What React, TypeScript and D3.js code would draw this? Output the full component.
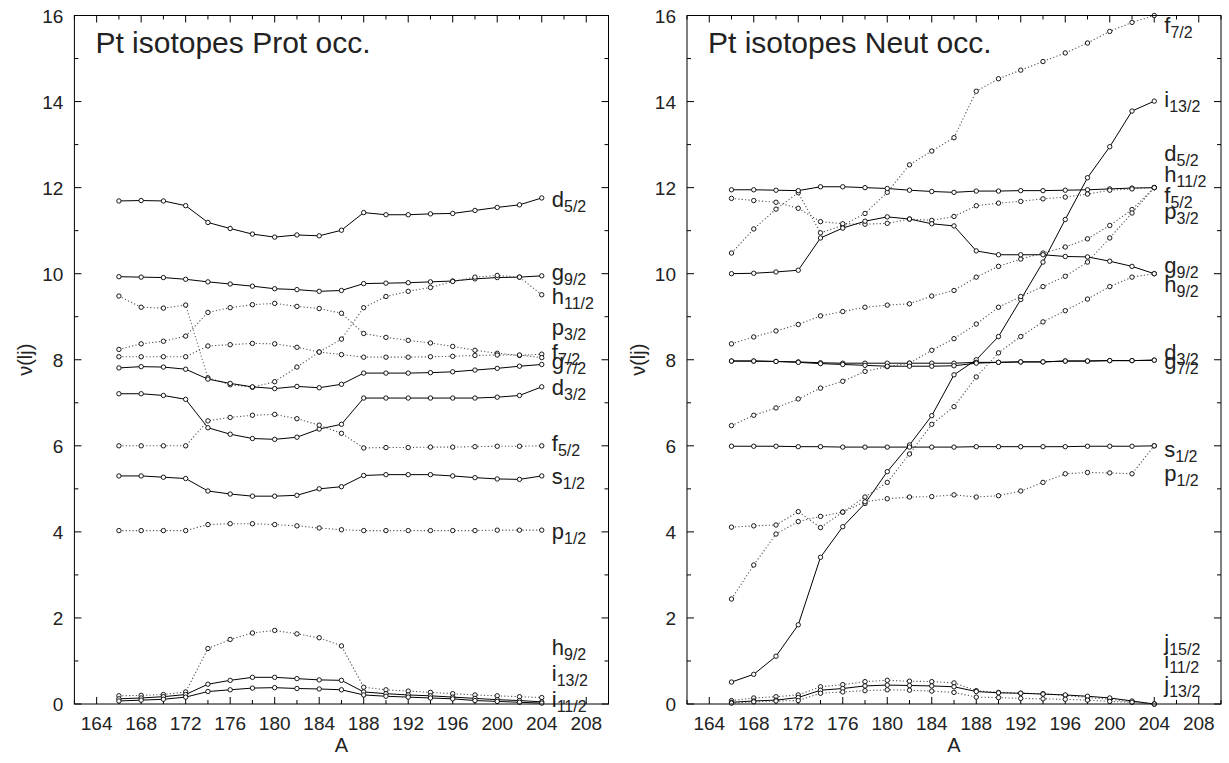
import React from 'react';
import * as d3 from 'd3';

// ---------- data ----------
const A_VALUES = [166, 168, 170, 172, 174, 176, 178, 180, 182, 184, 186, 188, 190, 192, 194, 196, 198, 200, 202, 204];
const X_TICKS = [164, 168, 172, 176, 180, 184, 188, 192, 196, 200, 204, 208];
const X_MINOR = [162, 166, 170, 174, 178, 182, 186, 190, 194, 198, 202, 206, 210];
const Y_TICKS = [0, 2, 4, 6, 8, 10, 12, 14, 16];
const Y_MINOR = [1, 3, 5, 7, 9, 11, 13, 15];

// Proton occupancies
const protD52 = [11.69, 11.70, 11.69, 11.58, 11.19, 11.05, 10.92, 10.85, 10.90, 10.88, 11.01, 11.42, 11.37, 11.37, 11.39, 11.40, 11.47, 11.54, 11.60, 11.76];
const protG92 = [9.93, 9.92, 9.91, 9.87, 9.81, 9.76, 9.71, 9.65, 9.63, 9.59, 9.61, 9.77, 9.78, 9.79, 9.81, 9.83, 9.88, 9.91, 9.92, 9.95];
const protH112 = [9.48, 9.22, 9.20, 9.27, 7.58, 7.42, 7.36, 7.49, 7.83, 8.18, 8.48, 9.21, 9.47, 9.59, 9.68, 9.82, 9.92, 9.96, 9.92, 9.51];
const protP32 = [8.24, 8.37, 8.43, 8.55, 9.10, 9.21, 9.28, 9.31, 9.24, 9.19, 9.08, 8.61, 8.52, 8.45, 8.39, 8.31, 8.22, 8.15, 8.10, 8.13];
const protF72 = [8.07, 8.07, 8.07, 8.07, 8.32, 8.35, 8.38, 8.37, 8.29, 8.18, 8.12, 8.06, 8.06, 8.06, 8.07, 8.08, 8.10, 8.11, 8.11, 8.05];
const protG72 = [7.81, 7.84, 7.83, 7.78, 7.55, 7.45, 7.37, 7.33, 7.38, 7.35, 7.43, 7.69, 7.69, 7.69, 7.70, 7.72, 7.76, 7.80, 7.85, 7.89];
const protD32 = [7.21, 7.21, 7.17, 7.08, 6.42, 6.27, 6.17, 6.15, 6.20, 6.39, 6.50, 7.11, 7.11, 7.11, 7.11, 7.11, 7.11, 7.13, 7.17, 7.37];
const protF52 = [6.00, 6.00, 6.00, 6.00, 6.58, 6.66, 6.71, 6.73, 6.63, 6.48, 6.29, 5.95, 5.96, 5.96, 5.97, 5.97, 5.98, 5.99, 5.99, 6.00];
const protS12 = [5.30, 5.30, 5.27, 5.24, 4.95, 4.88, 4.83, 4.83, 4.85, 5.00, 5.05, 5.31, 5.33, 5.33, 5.33, 5.30, 5.26, 5.23, 5.22, 5.30];
const protP12 = [4.03, 4.03, 4.03, 4.03, 4.17, 4.19, 4.19, 4.17, 4.14, 4.09, 4.05, 4.03, 4.03, 4.03, 4.03, 4.03, 4.03, 4.04, 4.04, 4.04];
const protH92 = [0.19, 0.20, 0.22, 0.28, 1.29, 1.50, 1.65, 1.71, 1.63, 1.54, 1.35, 0.39, 0.33, 0.30, 0.27, 0.24, 0.21, 0.19, 0.17, 0.15];
const protI132 = [0.12, 0.14, 0.17, 0.22, 0.46, 0.55, 0.62, 0.62, 0.59, 0.56, 0.55, 0.28, 0.24, 0.21, 0.19, 0.16, 0.13, 0.10, 0.08, 0.05];
const protI112 = [0.07, 0.09, 0.11, 0.16, 0.29, 0.33, 0.37, 0.38, 0.36, 0.35, 0.33, 0.21, 0.18, 0.16, 0.14, 0.12, 0.08, 0.06, 0.04, 0.02];

// Neutron occupancies
const neutF72 = [10.48, 11.04, 11.50, 11.88, 10.95, 11.12, 11.40, 11.89, 12.53, 12.85, 13.16, 14.24, 14.53, 14.73, 14.93, 15.13, 15.36, 15.63, 15.84, 16.00];
const neutI132 = [0.51, 0.69, 1.11, 1.84, 3.41, 4.12, 4.66, 5.40, 6.02, 6.70, 7.65, 8.00, 8.54, 9.40, 10.27, 11.26, 12.23, 12.95, 13.78, 14.01];
const neutD52 = [11.95, 11.95, 11.94, 11.93, 12.02, 12.02, 12.00, 11.98, 11.94, 11.91, 11.89, 11.92, 11.92, 11.93, 11.93, 11.94, 11.95, 11.97, 11.99, 12.00];
const neutH112 = [8.37, 8.53, 8.67, 8.82, 9.02, 9.12, 9.22, 9.27, 9.30, 9.48, 9.61, 9.92, 10.17, 10.34, 10.48, 10.62, 10.81, 11.12, 11.49, 12.00];
const neutF52 = [11.75, 11.70, 11.66, 11.52, 11.21, 11.16, 11.15, 11.17, 11.27, 11.24, 11.33, 11.58, 11.64, 11.68, 11.74, 11.78, 11.85, 11.94, 11.97, 12.00];
const neutP32 = [6.47, 6.71, 6.88, 7.09, 7.34, 7.50, 7.73, 7.84, 7.92, 8.22, 8.49, 8.83, 9.22, 9.47, 9.70, 9.94, 10.27, 10.83, 11.41, 12.00];
const neutG92 = [10.00, 10.01, 10.04, 10.08, 10.83, 11.06, 11.22, 11.32, 11.27, 11.16, 11.11, 10.53, 10.44, 10.44, 10.44, 10.40, 10.39, 10.29, 10.17, 10.00];
const neutH92 = [2.44, 3.23, 3.95, 4.24, 4.36, 4.46, 4.81, 5.15, 5.81, 6.50, 6.91, 7.60, 8.16, 8.54, 8.88, 9.14, 9.41, 9.70, 9.92, 10.00];
const neutD32 = [7.97, 7.97, 7.96, 7.95, 7.93, 7.92, 7.92, 7.92, 7.92, 7.92, 7.92, 7.94, 7.94, 7.95, 7.95, 7.97, 7.97, 7.98, 7.98, 7.99];
const neutG72 = [7.97, 7.97, 7.96, 7.94, 7.91, 7.89, 7.87, 7.85, 7.85, 7.85, 7.86, 7.92, 7.94, 7.95, 7.95, 7.97, 7.97, 7.98, 7.98, 7.99];
const neutS12 = [5.99, 5.99, 5.99, 5.98, 5.98, 5.97, 5.97, 5.97, 5.97, 5.97, 5.97, 5.98, 5.98, 5.98, 5.98, 5.98, 5.99, 5.99, 5.99, 6.00];
const neutP12 = [4.11, 4.14, 4.16, 4.47, 4.10, 4.46, 4.70, 4.77, 4.81, 4.82, 4.86, 4.81, 4.84, 4.95, 5.15, 5.35, 5.38, 5.37, 5.35, 6.00];
const neutJ152 = [0.08, 0.14, 0.17, 0.21, 0.40, 0.45, 0.52, 0.55, 0.53, 0.52, 0.49, 0.31, 0.27, 0.25, 0.24, 0.20, 0.15, 0.11, 0.05, 0.00];
const neutI112 = [0.04, 0.07, 0.09, 0.15, 0.32, 0.36, 0.42, 0.44, 0.43, 0.42, 0.40, 0.29, 0.26, 0.25, 0.23, 0.21, 0.18, 0.14, 0.07, 0.00];
const neutJ132 = [0.02, 0.05, 0.07, 0.08, 0.25, 0.28, 0.31, 0.33, 0.32, 0.30, 0.27, 0.16, 0.15, 0.13, 0.12, 0.11, 0.09, 0.06, 0.04, 0.00];

type Series = { orb: string; sub: string; values: number[]; dotted: boolean; labelV: number };

const protSeries: Series[] = [
  { orb: 'd', sub: '5/2', values: protD52, dotted: false, labelV: 11.56 },
  { orb: 'g', sub: '9/2', values: protG92, dotted: false, labelV: 9.86 },
  { orb: 'h', sub: '11/2', values: protH112, dotted: true, labelV: 9.30 },
  { orb: 'p', sub: '3/2', values: protP32, dotted: true, labelV: 8.58 },
  { orb: 'f', sub: '7/2', values: protF72, dotted: true, labelV: 8.0 },
  { orb: 'g', sub: '7/2', values: protG72, dotted: false, labelV: 7.78 },
  { orb: 'd', sub: '3/2', values: protD32, dotted: false, labelV: 7.19 },
  { orb: 'f', sub: '5/2', values: protF52, dotted: true, labelV: 5.87 },
  { orb: 's', sub: '1/2', values: protS12, dotted: false, labelV: 5.12 },
  { orb: 'p', sub: '1/2', values: protP12, dotted: true, labelV: 3.84 },
  { orb: 'h', sub: '9/2', values: protH92, dotted: true, labelV: 1.14 },
  { orb: 'i', sub: '13/2', values: protI132, dotted: false, labelV: 0.53 },
  { orb: 'i', sub: '11/2', values: protI112, dotted: false, labelV: -0.07 },
];

const neutSeries: Series[] = [
  { orb: 'f', sub: '7/2', values: neutF72, dotted: true, labelV: 15.6 },
  { orb: 'i', sub: '13/2', values: neutI132, dotted: false, labelV: 13.88 },
  { orb: 'd', sub: '5/2', values: neutD52, dotted: false, labelV: 12.61 },
  { orb: 'h', sub: '11/2', values: neutH112, dotted: true, labelV: 12.12 },
  { orb: 'f', sub: '5/2', values: neutF52, dotted: true, labelV: 11.65 },
  { orb: 'p', sub: '3/2', values: neutP32, dotted: true, labelV: 11.26 },
  { orb: 'g', sub: '9/2', values: neutG92, dotted: false, labelV: 10.02 },
  { orb: 'h', sub: '9/2', values: neutH92, dotted: true, labelV: 9.58 },
  { orb: 'd', sub: '3/2', values: neutD32, dotted: false, labelV: 8.0 },
  { orb: 'g', sub: '7/2', values: neutG72, dotted: false, labelV: 7.78 },
  { orb: 's', sub: '1/2', values: neutS12, dotted: false, labelV: 5.74 },
  { orb: 'p', sub: '1/2', values: neutP12, dotted: true, labelV: 5.19 },
  { orb: 'j', sub: '15/2', values: neutJ152, dotted: true, labelV: 1.26 },
  { orb: 'i', sub: '11/2', values: neutI112, dotted: false, labelV: 0.83 },
  { orb: 'j', sub: '13/2', values: neutJ132, dotted: true, labelV: 0.29 },
];

const FONT = "'Liberation Sans', Arial, Helvetica, sans-serif";
const TEXT = '#222';

type PanelProps = { left: number; right: number; title: string; series: Series[] };

function Panel({ left, right, title, series }: PanelProps) {
  const top = 15.5;
  const bottom = 704;
  const x = d3.scaleLinear().domain([162, 210]).range([left, right]);
  const y = d3.scaleLinear().domain([0, 16]).range([bottom, top]);
  const line = d3
    .line<number>()
    .x((_, i) => x(A_VALUES[i]))
    .y((v) => y(v));
  const labelA = 204.9;

  return (
    <g>
      {/* ticks */}
      {Y_TICKS.map((t) => (
        <g key={'y' + t}>
          <line x1={left} x2={left + 7} y1={y(t)} y2={y(t)} stroke="#000" strokeWidth={1} />
          <line x1={right} x2={right - 7} y1={y(t)} y2={y(t)} stroke="#000" strokeWidth={1} />
          <text x={left - 11} y={y(t) + 7} textAnchor="end" fontSize={19} fontFamily={FONT} fill={TEXT}>
            {t}
          </text>
        </g>
      ))}
      {Y_MINOR.map((t) => (
        <g key={'ym' + t}>
          <line x1={left} x2={left + 4} y1={y(t)} y2={y(t)} stroke="#000" strokeWidth={1} />
          <line x1={right} x2={right - 4} y1={y(t)} y2={y(t)} stroke="#000" strokeWidth={1} />
        </g>
      ))}
      {X_TICKS.map((t) => (
        <g key={'x' + t}>
          <line x1={x(t)} x2={x(t)} y1={bottom} y2={bottom - 7} stroke="#000" strokeWidth={1} />
          <line x1={x(t)} x2={x(t)} y1={top} y2={top + 7} stroke="#000" strokeWidth={1} />
          <text x={x(t)} y={730} textAnchor="middle" fontSize={19} fontFamily={FONT} fill={TEXT}>
            {t}
          </text>
        </g>
      ))}
      {X_MINOR.map((t) => (
        <g key={'xm' + t}>
          <line x1={x(t)} x2={x(t)} y1={bottom} y2={bottom - 4} stroke="#000" strokeWidth={1} />
          <line x1={x(t)} x2={x(t)} y1={top} y2={top + 4} stroke="#000" strokeWidth={1} />
        </g>
      ))}

      {/* series */}
      {series.map((s, k) => (
        <g key={'s' + k}>
          <path
            d={line(s.values) || ''}
            fill="none"
            stroke={s.dotted ? '#555' : '#000'}
            strokeWidth={s.dotted ? 1.1 : 1}
            strokeDasharray={s.dotted ? '1.2,2.2' : undefined}
          />
          {s.values.map((v, i) => (
            <circle key={i} cx={x(A_VALUES[i])} cy={y(v)} r={2.2} fill="#fff" stroke="#000" strokeWidth={0.9} />
          ))}
        </g>
      ))}

      {/* orbital labels */}
      {series.map((s, k) => (
        <text key={'l' + k} x={x(labelA)} y={y(s.labelV)} fontSize={22} fontFamily={FONT} fill={TEXT}>
          {s.orb}
          <tspan fontSize={16} dy={5}>
            {s.sub}
          </tspan>
        </text>
      ))}

      {/* frame */}
      <rect x={left} y={top} width={right - left} height={bottom - top} fill="none" stroke="#000" strokeWidth={1} />

      {/* title */}
      <text x={left + 21} y={53} fontSize={30} fontFamily={FONT} fill={TEXT}>
        {title}
      </text>

      {/* axis labels */}
      <text x={(left + right) / 2} y={752} textAnchor="middle" fontSize={20} fontFamily={FONT} fill={TEXT}>
        A
      </text>
      <text
        transform={`translate(${left - 42},${(top + bottom) / 2}) rotate(-90)`}
        textAnchor="middle"
        fontSize={20}
        fontFamily={FONT}
        fill={TEXT}
      >
        ν(lj)
      </text>
    </g>
  );
}

export default function App() {
  return (
    <svg
      width={1229}
      height={763}
      viewBox="0 0 1229 763"
      style={{ position: 'absolute', left: 0, top: 0, background: '#fff' }}
    >
      <rect x={0} y={0} width={1229} height={763} fill="#fff" />
      <Panel left={74.4} right={608.5} title="Pt isotopes Prot occ." series={protSeries} />
      <Panel left={687} right={1221} title="Pt isotopes Neut occ." series={neutSeries} />
    </svg>
  );
}
